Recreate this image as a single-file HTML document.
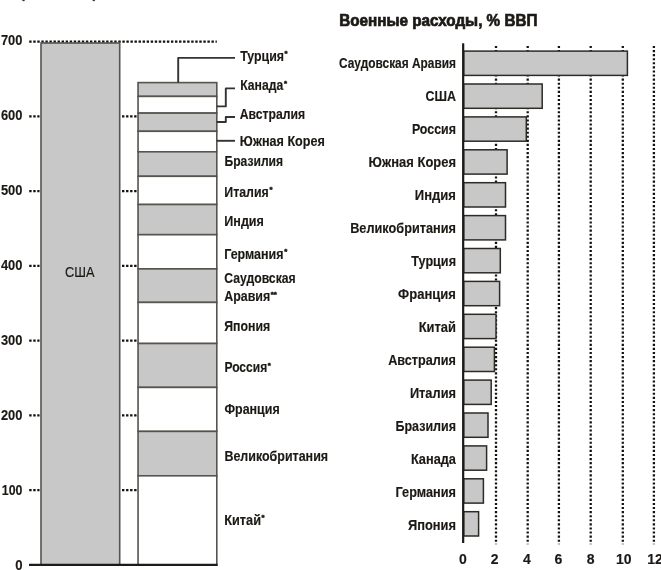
<!DOCTYPE html>
<html><head><meta charset="utf-8"><style>
html,body{margin:0;padding:0;background:#fff;width:661px;height:570px;overflow:hidden}
svg{display:block;will-change:transform;filter:blur(0.35px);font-family:"Liberation Sans",sans-serif}
text{fill:#1c1915;stroke:#1c1915;stroke-width:0.15px}
.t{stroke-width:0.7px}
.a{stroke-width:0.5px}
</style></head><body>
<svg width="661" height="570" viewBox="0 0 661 570">
<ellipse cx="23.5" cy="0.2" rx="1.3" ry="1.1" fill="#3a3a3a"/>
<ellipse cx="93.8" cy="0.2" rx="1.3" ry="1.1" fill="#3a3a3a"/>
<text x="0.8999999999999986" y="45.4" font-size="14.2" font-weight="bold" text-anchor="start" textLength="21.5" lengthAdjust="spacingAndGlyphs">700</text>
<line x1="29.2" y1="41.58" x2="216.8" y2="41.58" stroke="#141210" stroke-width="2.1" stroke-dasharray="2.4 1.65"/>
<text x="0.8999999999999986" y="120.33" font-size="14.2" font-weight="bold" text-anchor="start" textLength="21.5" lengthAdjust="spacingAndGlyphs">600</text>
<line x1="29.2" y1="116.34" x2="39.5" y2="116.34" stroke="#141210" stroke-width="2.1" stroke-dasharray="2.4 1.65"/>
<line x1="122.0" y1="116.34" x2="137.2" y2="116.34" stroke="#141210" stroke-width="2.1" stroke-dasharray="2.4 1.65"/>
<text x="0.8999999999999986" y="195.26" font-size="14.2" font-weight="bold" text-anchor="start" textLength="21.5" lengthAdjust="spacingAndGlyphs">500</text>
<line x1="29.2" y1="191.1" x2="39.5" y2="191.1" stroke="#141210" stroke-width="2.1" stroke-dasharray="2.4 1.65"/>
<line x1="122.0" y1="191.1" x2="137.2" y2="191.1" stroke="#141210" stroke-width="2.1" stroke-dasharray="2.4 1.65"/>
<text x="0.8999999999999986" y="270.19" font-size="14.2" font-weight="bold" text-anchor="start" textLength="21.5" lengthAdjust="spacingAndGlyphs">400</text>
<line x1="29.2" y1="265.86" x2="39.5" y2="265.86" stroke="#141210" stroke-width="2.1" stroke-dasharray="2.4 1.65"/>
<line x1="122.0" y1="265.86" x2="137.2" y2="265.86" stroke="#141210" stroke-width="2.1" stroke-dasharray="2.4 1.65"/>
<text x="0.8999999999999986" y="345.12" font-size="14.2" font-weight="bold" text-anchor="start" textLength="21.5" lengthAdjust="spacingAndGlyphs">300</text>
<line x1="29.2" y1="340.62" x2="39.5" y2="340.62" stroke="#141210" stroke-width="2.1" stroke-dasharray="2.4 1.65"/>
<line x1="122.0" y1="340.62" x2="137.2" y2="340.62" stroke="#141210" stroke-width="2.1" stroke-dasharray="2.4 1.65"/>
<text x="0.8999999999999986" y="420.05" font-size="14.2" font-weight="bold" text-anchor="start" textLength="21.5" lengthAdjust="spacingAndGlyphs">200</text>
<line x1="29.2" y1="415.38" x2="39.5" y2="415.38" stroke="#141210" stroke-width="2.1" stroke-dasharray="2.4 1.65"/>
<line x1="122.0" y1="415.38" x2="137.2" y2="415.38" stroke="#141210" stroke-width="2.1" stroke-dasharray="2.4 1.65"/>
<text x="1.8" y="494.98" font-size="14.2" font-weight="bold" text-anchor="start" textLength="20.6" lengthAdjust="spacingAndGlyphs">100</text>
<line x1="29.2" y1="490.14" x2="39.5" y2="490.14" stroke="#141210" stroke-width="2.1" stroke-dasharray="2.4 1.65"/>
<line x1="122.0" y1="490.14" x2="137.2" y2="490.14" stroke="#141210" stroke-width="2.1" stroke-dasharray="2.4 1.65"/>
<text x="15.3" y="570.2" font-size="14.2" font-weight="bold" text-anchor="start" textLength="7.3" lengthAdjust="spacingAndGlyphs">0</text>
<rect x="41" y="43" width="78.7" height="521.9" fill="#c8c8c8" stroke="#57534e" stroke-width="1.6"/>
<text x="65" y="276.8" font-size="14.3" font-weight="normal" text-anchor="start" textLength="29.5" lengthAdjust="spacingAndGlyphs">США</text>
<rect x="138.05" y="82.6" width="78.75" height="13.8" fill="#c8c8c8" stroke="#57534e" stroke-width="1.6"/>
<rect x="138.05" y="96.4" width="78.75" height="16.7" fill="#ffffff" stroke="#57534e" stroke-width="1.6"/>
<rect x="138.05" y="113.1" width="78.75" height="18.2" fill="#c8c8c8" stroke="#57534e" stroke-width="1.6"/>
<rect x="138.05" y="131.3" width="78.75" height="20.5" fill="#ffffff" stroke="#57534e" stroke-width="1.6"/>
<rect x="138.05" y="151.8" width="78.75" height="24.5" fill="#c8c8c8" stroke="#57534e" stroke-width="1.6"/>
<rect x="138.05" y="176.3" width="78.75" height="28.2" fill="#ffffff" stroke="#57534e" stroke-width="1.6"/>
<rect x="138.05" y="204.5" width="78.75" height="30.2" fill="#c8c8c8" stroke="#57534e" stroke-width="1.6"/>
<rect x="138.05" y="234.7" width="78.75" height="34.2" fill="#ffffff" stroke="#57534e" stroke-width="1.6"/>
<rect x="138.05" y="268.9" width="78.75" height="33.5" fill="#c8c8c8" stroke="#57534e" stroke-width="1.6"/>
<rect x="138.05" y="302.4" width="78.75" height="41.1" fill="#ffffff" stroke="#57534e" stroke-width="1.6"/>
<rect x="138.05" y="343.5" width="78.75" height="43.9" fill="#c8c8c8" stroke="#57534e" stroke-width="1.6"/>
<rect x="138.05" y="387.4" width="78.75" height="44.0" fill="#ffffff" stroke="#57534e" stroke-width="1.6"/>
<rect x="138.05" y="431.4" width="78.75" height="44.4" fill="#c8c8c8" stroke="#57534e" stroke-width="1.6"/>
<rect x="138.05" y="475.8" width="78.75" height="89.1" fill="#ffffff" stroke="#57534e" stroke-width="1.6"/>
<line x1="29" y1="564.9" x2="217.6" y2="564.9" stroke="#1e1b17" stroke-width="2.3"/>
<polyline points="178.2,82.6 178.2,57.9 235,57.9" fill="none" stroke="#353230" stroke-width="1.9" stroke-linejoin="round"/>
<polyline points="216.8,106.4 225.8,106.4 225.8,88.4 235,88.4" fill="none" stroke="#353230" stroke-width="1.9" stroke-linejoin="round"/>
<polyline points="216.8,122.0 225.8,122.0 225.8,117.0 235,117.0" fill="none" stroke="#353230" stroke-width="1.9" stroke-linejoin="round"/>
<polyline points="216.8,140.8 235,140.8" fill="none" stroke="#353230" stroke-width="1.9" stroke-linejoin="round"/>
<text x="240.2" y="60.6" font-size="14.3" font-weight="bold" text-anchor="start" textLength="43.8" lengthAdjust="spacingAndGlyphs">Турция</text>
<text x="284.6" y="56.0" font-size="7.8" font-weight="bold" class="a">*</text>
<text x="240.2" y="90.4" font-size="14.3" font-weight="bold" text-anchor="start" textLength="43.1" lengthAdjust="spacingAndGlyphs">Канада</text>
<text x="283.9" y="85.8" font-size="7.8" font-weight="bold" class="a">*</text>
<text x="239.8" y="118.5" font-size="14.3" font-weight="bold" text-anchor="start" textLength="65.4" lengthAdjust="spacingAndGlyphs">Австралия</text>
<text x="239.8" y="145.8" font-size="14.3" font-weight="bold" text-anchor="start" textLength="85.1" lengthAdjust="spacingAndGlyphs">Южная Корея</text>
<text x="224.5" y="166.4" font-size="14.3" font-weight="bold" text-anchor="start" textLength="58.6" lengthAdjust="spacingAndGlyphs">Бразилия</text>
<text x="224.3" y="196.7" font-size="14.3" font-weight="bold" text-anchor="start" textLength="44.5" lengthAdjust="spacingAndGlyphs">Италия</text>
<text x="269.4" y="192.1" font-size="7.8" font-weight="bold" class="a">*</text>
<text x="224.3" y="225.9" font-size="14.3" font-weight="bold" text-anchor="start" textLength="39.6" lengthAdjust="spacingAndGlyphs">Индия</text>
<text x="224.2" y="258.9" font-size="14.3" font-weight="bold" text-anchor="start" textLength="59.4" lengthAdjust="spacingAndGlyphs">Германия</text>
<text x="284.2" y="254.3" font-size="7.8" font-weight="bold" class="a">*</text>
<text x="224.2" y="283.3" font-size="14.3" font-weight="bold" text-anchor="start" textLength="71.5" lengthAdjust="spacingAndGlyphs">Саудовская</text>
<text x="224.2" y="301.2" font-size="14.3" font-weight="bold" text-anchor="start" textLength="46.0" lengthAdjust="spacingAndGlyphs">Аравия</text>
<text x="270.8" y="296.6" font-size="7.8" font-weight="bold" class="a">**</text>
<text x="224.2" y="331.0" font-size="14.3" font-weight="bold" text-anchor="start" textLength="46.0" lengthAdjust="spacingAndGlyphs">Япония</text>
<text x="224.4" y="372.2" font-size="14.3" font-weight="bold" text-anchor="start" textLength="42.8" lengthAdjust="spacingAndGlyphs">Россия</text>
<text x="267.8" y="367.6" font-size="7.8" font-weight="bold" class="a">*</text>
<text x="224.4" y="414.1" font-size="14.3" font-weight="bold" text-anchor="start" textLength="55.3" lengthAdjust="spacingAndGlyphs">Франция</text>
<text x="224.4" y="460.5" font-size="14.3" font-weight="bold" text-anchor="start" textLength="103.7" lengthAdjust="spacingAndGlyphs">Великобритания</text>
<text x="224.2" y="524.9" font-size="14.3" font-weight="bold" text-anchor="start" textLength="36.8" lengthAdjust="spacingAndGlyphs">Китай</text>
<text x="261.6" y="520.3" font-size="7.8" font-weight="bold" class="a">*</text>
<text x="339.2" y="25.9" font-size="15.9" font-weight="bold" text-anchor="start" textLength="198.2" lengthAdjust="spacingAndGlyphs" class="t">Военные расходы, % ВВП</text>
<line x1="496.0" y1="45.95" x2="496.0" y2="544.3" stroke="#141210" stroke-width="2.3" stroke-dasharray="2.1 1.98"/>
<line x1="527.7" y1="45.95" x2="527.7" y2="544.3" stroke="#141210" stroke-width="2.3" stroke-dasharray="2.1 1.98"/>
<line x1="558.9" y1="45.95" x2="558.9" y2="544.3" stroke="#141210" stroke-width="2.3" stroke-dasharray="2.1 1.98"/>
<line x1="590.7" y1="45.95" x2="590.7" y2="544.3" stroke="#141210" stroke-width="2.3" stroke-dasharray="2.1 1.98"/>
<line x1="622.8" y1="45.95" x2="622.8" y2="544.3" stroke="#141210" stroke-width="2.3" stroke-dasharray="2.1 1.98"/>
<line x1="653.9" y1="45.95" x2="653.9" y2="544.3" stroke="#141210" stroke-width="2.3" stroke-dasharray="2.1 1.98"/>
<line x1="463.2" y1="43.4" x2="463.2" y2="543.0" stroke="#1e1b17" stroke-width="1.9"/>
<rect x="463.8" y="51.1" width="163.6" height="24.3" fill="#c8c8c8" stroke="#2e2b27" stroke-width="1.5"/>
<text x="339.0" y="67.6" font-size="14.2" font-weight="bold" text-anchor="start" textLength="117.0" lengthAdjust="spacingAndGlyphs">Саудовская Аравия</text>
<rect x="463.8" y="84.0" width="78.4" height="24.3" fill="#c8c8c8" stroke="#2e2b27" stroke-width="1.5"/>
<text x="425.6" y="100.62" font-size="14.2" font-weight="bold" text-anchor="start" textLength="30.4" lengthAdjust="spacingAndGlyphs">США</text>
<rect x="463.8" y="116.9" width="62.5" height="24.3" fill="#c8c8c8" stroke="#2e2b27" stroke-width="1.5"/>
<text x="411.9" y="133.64" font-size="14.2" font-weight="bold" text-anchor="start" textLength="44.1" lengthAdjust="spacingAndGlyphs">Россия</text>
<rect x="463.8" y="149.8" width="43.3" height="24.3" fill="#c8c8c8" stroke="#2e2b27" stroke-width="1.5"/>
<text x="368.6" y="166.66" font-size="14.2" font-weight="bold" text-anchor="start" textLength="87.4" lengthAdjust="spacingAndGlyphs">Южная Корея</text>
<rect x="463.8" y="182.7" width="41.7" height="24.3" fill="#c8c8c8" stroke="#2e2b27" stroke-width="1.5"/>
<text x="414.8" y="199.68" font-size="14.2" font-weight="bold" text-anchor="start" textLength="41.2" lengthAdjust="spacingAndGlyphs">Индия</text>
<rect x="463.8" y="215.6" width="41.7" height="24.3" fill="#c8c8c8" stroke="#2e2b27" stroke-width="1.5"/>
<text x="350.2" y="232.7" font-size="14.2" font-weight="bold" text-anchor="start" textLength="105.8" lengthAdjust="spacingAndGlyphs">Великобритания</text>
<rect x="463.8" y="248.5" width="36.5" height="24.3" fill="#c8c8c8" stroke="#2e2b27" stroke-width="1.5"/>
<text x="411.3" y="265.72" font-size="14.2" font-weight="bold" text-anchor="start" textLength="44.7" lengthAdjust="spacingAndGlyphs">Турция</text>
<rect x="463.8" y="281.4" width="35.8" height="24.3" fill="#c8c8c8" stroke="#2e2b27" stroke-width="1.5"/>
<text x="398.1" y="298.74" font-size="14.2" font-weight="bold" text-anchor="start" textLength="57.9" lengthAdjust="spacingAndGlyphs">Франция</text>
<rect x="463.8" y="314.3" width="32.2" height="24.3" fill="#c8c8c8" stroke="#2e2b27" stroke-width="1.5"/>
<text x="418.7" y="331.76" font-size="14.2" font-weight="bold" text-anchor="start" textLength="37.3" lengthAdjust="spacingAndGlyphs">Китай</text>
<rect x="463.8" y="347.2" width="30.6" height="24.3" fill="#c8c8c8" stroke="#2e2b27" stroke-width="1.5"/>
<text x="388.2" y="364.78" font-size="14.2" font-weight="bold" text-anchor="start" textLength="67.8" lengthAdjust="spacingAndGlyphs">Австралия</text>
<rect x="463.8" y="380.1" width="27.4" height="24.3" fill="#c8c8c8" stroke="#2e2b27" stroke-width="1.5"/>
<text x="409.9" y="397.8" font-size="14.2" font-weight="bold" text-anchor="start" textLength="46.1" lengthAdjust="spacingAndGlyphs">Италия</text>
<rect x="463.8" y="413.0" width="24.2" height="24.3" fill="#c8c8c8" stroke="#2e2b27" stroke-width="1.5"/>
<text x="395.5" y="430.82" font-size="14.2" font-weight="bold" text-anchor="start" textLength="60.5" lengthAdjust="spacingAndGlyphs">Бразилия</text>
<rect x="463.8" y="445.9" width="22.8" height="24.3" fill="#c8c8c8" stroke="#2e2b27" stroke-width="1.5"/>
<text x="410.9" y="463.84" font-size="14.2" font-weight="bold" text-anchor="start" textLength="45.1" lengthAdjust="spacingAndGlyphs">Канада</text>
<rect x="463.8" y="478.8" width="19.6" height="24.3" fill="#c8c8c8" stroke="#2e2b27" stroke-width="1.5"/>
<text x="395.5" y="496.86" font-size="14.2" font-weight="bold" text-anchor="start" textLength="60.5" lengthAdjust="spacingAndGlyphs">Германия</text>
<rect x="463.8" y="511.7" width="14.8" height="24.3" fill="#c8c8c8" stroke="#2e2b27" stroke-width="1.5"/>
<text x="407.9" y="529.88" font-size="14.2" font-weight="bold" text-anchor="start" textLength="48.1" lengthAdjust="spacingAndGlyphs">Япония</text>
<line x1="463.2" y1="43.4" x2="463.2" y2="543.0" stroke="#1e1b17" stroke-width="1.9"/>
<text x="462.9" y="564.4" font-size="14.0" font-weight="bold" text-anchor="middle">0</text>
<text x="494.6" y="564.4" font-size="14.0" font-weight="bold" text-anchor="middle">2</text>
<text x="527.0" y="564.4" font-size="14.0" font-weight="bold" text-anchor="middle">4</text>
<text x="558.5" y="564.4" font-size="14.0" font-weight="bold" text-anchor="middle">6</text>
<text x="590.7" y="564.4" font-size="14.0" font-weight="bold" text-anchor="middle">8</text>
<text x="623.8" y="564.4" font-size="14.0" font-weight="bold" text-anchor="middle">10</text>
<text x="655.0" y="564.4" font-size="14.0" font-weight="bold" text-anchor="middle">12</text>
</svg>
</body></html>
